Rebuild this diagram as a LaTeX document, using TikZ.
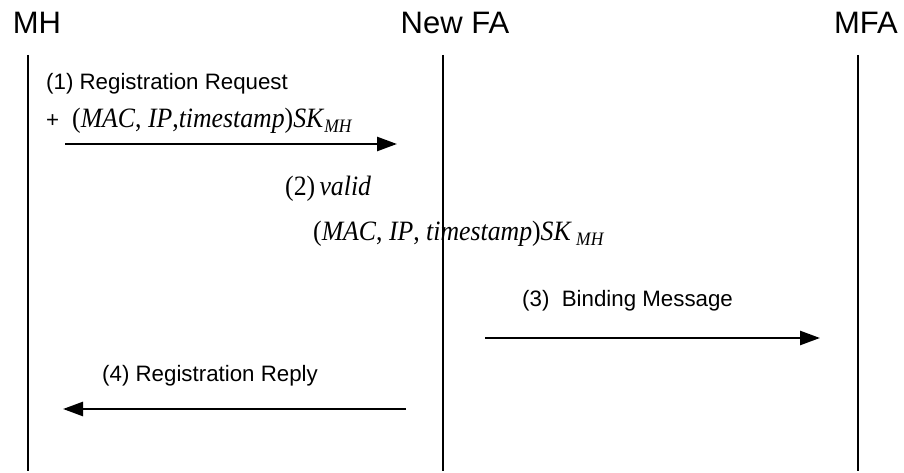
\documentclass[tikz,border=0pt]{standalone}
\usepackage{fontspec}
\setmainfont{Liberation Serif}
\setsansfont{Liberation Sans}
\usetikzlibrary{arrows.meta}
\newcommand{\mathlbl}[1]{\scalebox{0.92}[1]{\fontsize{28}{30}\selectfont\rmfamily #1}}
\newcommand{\skmh}{\textit{SK}\raisebox{-0.35ex}{\fontsize{19}{20}\selectfont\itshape MH}}
\begin{document}
\begin{tikzpicture}[x=1pt,y=1pt,
  header/.style={anchor=base,inner sep=0pt,font=\sffamily\fontsize{31}{33}\selectfont},
  lbl/.style={anchor=base west,inner sep=0pt,font=\sffamily\fontsize{22.3}{24}\selectfont},
  mlbl/.style={anchor=base west,inner sep=0pt},
  lifeline/.style={line width=2pt},
  msg/.style={line width=2.6pt,-{Triangle[length=20pt,width=14pt]}}]
\useasboundingbox (0,0) rectangle (904,473);
% headers
\node[header] (hMH) at (37,439) {MH};
\node[header] (hFA) at (455,439) {New FA};
\node[header] (hMFA) at (866,439) {MFA};
% lifeline end points
\coordinate (mhT) at (28,418);  \coordinate (mhB) at (28,2);
\coordinate (faT) at (443,418); \coordinate (faB) at (443,2);
\coordinate (mfT) at (858,418); \coordinate (mfB) at (858,2);
% labels
\node[lbl] (l1) at (46,383) {(1) Registration Request};
\node[lbl] (lplus) at (46,345) {+};
\node[mlbl] (m1) at (72,345) {\mathlbl{(\textit{MAC}, \textit{IP},\textit{timestamp})\skmh}};
\node[mlbl] (l2) at (285,277) {\mathlbl{(2)\,\textit{valid}}};
\node[mlbl] (m2) at (313,232) {\mathlbl{(\textit{MAC}, \textit{IP}, \textit{timestamp})\textit{SK}\raisebox{-0.35ex}{\fontsize{19}{20}\selectfont\itshape\ MH}}};
\node[lbl] (l3) at (522,166) {(3)\ \ Binding Message};
\node[lbl] (l4) at (102,91) {(4) Registration Reply};
% lifelines
\draw[lifeline] (mhT) -- (mhB);
\draw[lifeline] (faT) -- (faB);
\draw[lifeline] (mfT) -- (mfB);
% message arrows
\coordinate (a1s) at (65,329);  \coordinate (a1e) at (397,329);
\coordinate (a3s) at (485,135); \coordinate (a3e) at (820,135);
\coordinate (a4s) at (406,64);  \coordinate (a4e) at (63,64);
\draw[msg] (a1s) -- (a1e);
\draw[msg] (a3s) -- (a3e);
\draw[msg] (a4s) -- (a4e);
\end{tikzpicture}
\end{document}
